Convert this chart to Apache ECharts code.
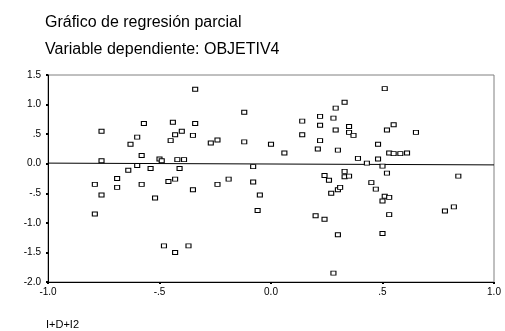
<!DOCTYPE html>
<html>
<head>
    <meta charset="utf-8">
    <script src="https://cdn.jsdelivr.net/npm/echarts@6/dist/echarts.min.js"></script>
    <title>Gráfico de regresión parcial</title>
</head>
<body style="margin:0">
    <div id="container" style="width:505px;height:331px;"></div>
    <script>
    // residuos parciales (x = I+D+I2, y = OBJETIV4)
    var xResid = [-0.76, -0.76, -0.57, -0.44, -0.34, -0.34, -0.60, -0.63, -0.43, -0.40, -0.45, -0.35,
        -0.58, -0.50, -0.49, -0.42, -0.39, -0.27, -0.24, -0.12, -0.12, 0.00, -0.60, -0.64, -0.54, -0.41,
        -0.08, -0.79, -0.76, -0.79, -0.69, -0.69, -0.58, -0.52, -0.46, -0.43, -0.35, -0.24, -0.19, -0.08,
        -0.05, -0.06, -0.48, -0.43, -0.37, 0.24, 0.26, 0.33, 0.33, 0.35, 0.27, 0.30, 0.31, 0.45, 0.47,
        0.50, 0.51, 0.53, 0.53, 0.50, 0.52, 0.20, 0.24, 0.30, 0.50, 0.28, 0.78, 0.82, 0.84, 0.51, 0.33,
        0.29, 0.22, 0.28, 0.14, 0.22, 0.29, 0.35, 0.35, 0.37, 0.14, 0.22, 0.21, 0.30, 0.06, 0.52, 0.55,
        0.65, 0.48, 0.53, 0.55, 0.58, 0.61, 0.39, 0.43, 0.48];
    var yResid = [0.55, 0.05, 0.68, 0.70, 1.26, 0.68, 0.45, 0.33, 0.49, 0.55, 0.39, 0.48,
        0.14, 0.08, 0.05, 0.07, 0.07, 0.35, 0.40, 0.87, 0.37, 0.33, -0.03, -0.11, -0.08, -0.08,
        -0.05, -0.35, -0.53, -0.85, -0.25, -0.40, -0.35, -0.58, -0.30, -0.26, -0.44, -0.35, -0.26, -0.31,
        -0.53, -0.79, -1.39, -1.50, -1.39, -0.20, -0.28, -0.13, -0.22, -0.21, -0.50, -0.44, -0.40, -0.32, -0.43,
        -0.63, -0.55, -0.57, -0.86, -0.04, -0.16, -0.88, -0.94, -1.20, -1.18, -1.85, -0.80, -0.73, -0.21, 1.27, 1.04,
        0.94, 0.80, 0.77, 0.72, 0.65, 0.57, 0.63, 0.53, 0.48, 0.49, 0.39, 0.25, 0.23, 0.18, 0.57, 0.66,
        0.53, 0.33, 0.18, 0.17, 0.17, 0.18, 0.09, 0.01, 0.08];

    // recta de ajuste (extremos)
    var fitX = [-1.0, 1.0];
    var fitY = [0.01, -0.02];

    var xTicks = ['-1.0', '-.5', '0.0', '.5', '1.0'];
    var yTicks = ['-2.0', '-1.5', '-1.0', '-.5', '0.0', '.5', '1.0', '1.5'];

    var puntos = xResid.map(function (x, i) { return [x, yResid[i]]; });
    var recta = fitX.map(function (x, i) { return [x, fitY[i]]; });

    var myChart = echarts.init(document.getElementById('container'));
    var fuente = 'Arial, "Liberation Sans", sans-serif';

    var option = {
        animation: false,
        backgroundColor: '#fff',
        title: [{
            text: 'Gráfico de regresión parcial',
            left: 40, top: 10,
            textStyle: { fontSize: 16, fontWeight: 'normal', color: '#000', fontFamily: fuente }
        }, {
            text: 'Variable dependiente: OBJETIV4',
            left: 40, top: 37,
            textStyle: { fontSize: 16, fontWeight: 'normal', color: '#000', fontFamily: fuente }
        }, {
            text: 'I+D+I2',
            left: 41, top: 314,
            textStyle: { fontSize: 11, fontWeight: 'normal', color: '#000', fontFamily: fuente }
        }],
        grid: {
            left: 48, right: 11, top: 75, bottom: 49,
            show: true,
            borderColor: '#808080',
            borderWidth: 1
        },
        xAxis: {
            type: 'value',
            min: -1, max: 1, interval: 0.5,
            axisLine: { show: true, onZero: false, lineStyle: { color: '#000', width: 1 } },
            axisTick: { show: true, length: 2, lineStyle: { color: '#000', width: 2 } },
            splitLine: { show: false },
            axisLabel: {
                margin: 5, fontSize: 10, color: '#000', fontFamily: fuente,
                formatter: function (v) { return xTicks[Math.round((v + 1) / 0.5)]; }
            }
        },
        yAxis: {
            type: 'value',
            min: -2, max: 1.5, interval: 0.5,
            axisLine: { show: true, onZero: false, lineStyle: { color: '#000', width: 1 } },
            axisTick: { show: true, length: 2, lineStyle: { color: '#000', width: 2 } },
            splitLine: { show: false },
            axisLabel: {
                margin: 7, fontSize: 10, color: '#000', fontFamily: fuente,
                formatter: function (v) { return yTicks[Math.round((v + 2) / 0.5)]; }
            }
        },
        series: [{
            type: 'line',
            data: recta,
            showSymbol: false,
            lineStyle: { color: '#000', width: 1 },
            z: 1
        }, {
            type: 'scatter',
            data: puntos,
            symbol: 'rect',
            symbolSize: [5, 4],
            itemStyle: { color: '#fff', borderColor: '#000', borderWidth: 1, opacity: 1 },
            z: 2
        }]
    };

    myChart.setOption(option);
    </script>
</body>
</html>
